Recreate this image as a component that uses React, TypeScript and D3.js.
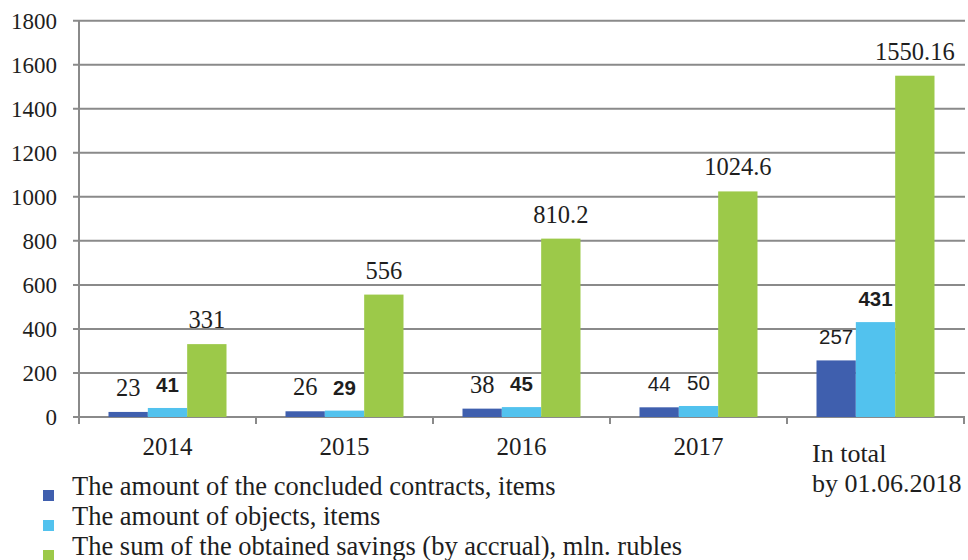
import React from "react";
import * as d3 from "d3";

const categories = ["2014", "2015", "2016", "2017", "In total|by 01.06.2018"];
const contracts = [23, 26, 38, 44, 257];
const objects = [41, 29, 45, 50, 431];
const savings = [331, 556, 810.2, 1024.6, 1550.16];
const contractsLabels = ["23", "26", "38", "44", "257"];
const objectsLabels = ["41", "29", "45", "50", "431"];
const savingsLabels = ["331", "556", "810.2", "1024.6", "1550.16"];
const seriesNames = [
  "The amount of the concluded contracts, items",
  "The amount of objects, items",
  "The sum of the obtained savings (by accrual), mln. rubles",
];
const yTicks = [0, 200, 400, 600, 800, 1000, 1200, 1400, 1600, 1800];

// label styles (presentation only)
const contractsLabelStyle = ["serif", "serif", "serif", "sans", "sans"];
const objectsLabelStyle = ["bold", "bold", "bold", "sans", "bold"];

const colors = ["#3f5fae", "#52c2ee", "#9cc949"];
const SERIF = "'Liberation Serif', 'Times New Roman', serif";
const SANS = "'Liberation Sans', Arial, sans-serif";
const TEXT = "#1e1e1e";
const GRID = "#8a8a8a";

export default function App() {
  const W = 968, H = 560;
  const left = 79, right = 964, top = 20.7, bottom = 417;
  const x = d3.scaleBand<string>().domain(categories).range([left, right]).padding(0);
  const bw = x.bandwidth();
  const seriesKeys = ["c", "o", "s"];
  const x1 = d3.scaleBand<string>().domain(seriesKeys).range([0, (bw * 2) / 3]).padding(0);
  const y = d3.scaleLinear().domain([0, 1800]).range([bottom, top]);
  const series = [contracts, objects, savings];
  const labels = [contractsLabels, objectsLabels, savingsLabels];

  const labelFont = (si: number, i: number) => {
    const st = si === 0 ? contractsLabelStyle[i] : si === 1 ? objectsLabelStyle[i] : "serif";
    if (st === "serif") return { fontFamily: SERIF, fontSize: 24.5, fontWeight: 400 };
    if (st === "bold") return { fontFamily: SANS, fontSize: 20.5, fontWeight: 700 };
    return { fontFamily: SANS, fontSize: 20.5, fontWeight: 400 };
  };

  return (
    <svg width={W} height={H} style={{ position: "absolute", left: 0, top: 0, background: "#fff" }}>
      <rect x={0} y={0} width={W} height={H} fill="#fff" />
      {/* gridlines */}
      {yTicks.map((t) => (
        <line key={"g" + t} x1={73} x2={right + 1} y1={y(t)} y2={y(t)} stroke={GRID} strokeWidth={2} />
      ))}
      {/* y axis */}
      <line x1={left} x2={left} y1={top} y2={bottom + 7} stroke={GRID} strokeWidth={2} />
      {/* x ticks */}
      {categories.map((c, i) => (
        <line key={"xt" + i} x1={(x(c) as number) + bw} x2={(x(c) as number) + bw} y1={bottom} y2={bottom + 7} stroke={GRID} strokeWidth={2} />
      ))}
      {/* y tick labels */}
      {yTicks.map((t) => (
        <text key={"yl" + t} x={57} y={y(t) + 8} textAnchor="end" fontFamily={SERIF} fontSize={23} fill={TEXT}>
          {t}
        </text>
      ))}
      {/* bars */}
      {series.map((vals, si) =>
        categories.map((c, i) => (
          <rect
            key={"b" + si + "-" + i}
            x={(x(c) as number) + bw / 6 + (x1(seriesKeys[si]) as number)}
            y={y(vals[i])}
            width={x1.bandwidth()}
            height={y(0) - y(vals[i])}
            fill={colors[si]}
          />
        ))
      )}
      {/* value labels */}
      {series.map((vals, si) =>
        categories.map((c, i) => {
          const f = labelFont(si, i);
          return (
            <text
              key={"v" + si + "-" + i}
              x={(x(c) as number) + bw / 6 + (x1(seriesKeys[si]) as number) + x1.bandwidth() / 2}
              y={y(vals[i]) - 16}
              textAnchor="middle"
              fill={TEXT}
              fontFamily={f.fontFamily}
              fontSize={f.fontSize}
              fontWeight={f.fontWeight}
            >
              {labels[si][i]}
            </text>
          );
        })
      )}
      {/* category labels */}
      {categories.map((c, i) => {
        const parts = c.split("|");
        if (parts.length === 1) {
          return (
            <text key={"cl" + i} x={(x(c) as number) + bw / 2} y={455} textAnchor="middle" fontFamily={SERIF} fontSize={25} fill={TEXT}>
              {c}
            </text>
          );
        }
        return (
          <text key={"cl" + i} x={(x(c) as number) + 25} y={462} fontFamily={SERIF} fontSize={26} fill={TEXT}>
            {parts.map((p, j) => (
              <tspan key={j} x={(x(c) as number) + 25} dy={j === 0 ? 0 : 30}>
                {p}
              </tspan>
            ))}
          </text>
        );
      })}
      {/* legend */}
      {seriesNames.map((n, i) => (
        <g key={"lg" + i}>
          <rect x={43} y={495 + i * 30 - 5} width={11} height={11} fill={colors[i]} />
          <text x={72} y={495 + i * 30} fontFamily={SERIF} fontSize={26.5} fill={TEXT}>
            {n}
          </text>
        </g>
      ))}
    </svg>
  );
}
